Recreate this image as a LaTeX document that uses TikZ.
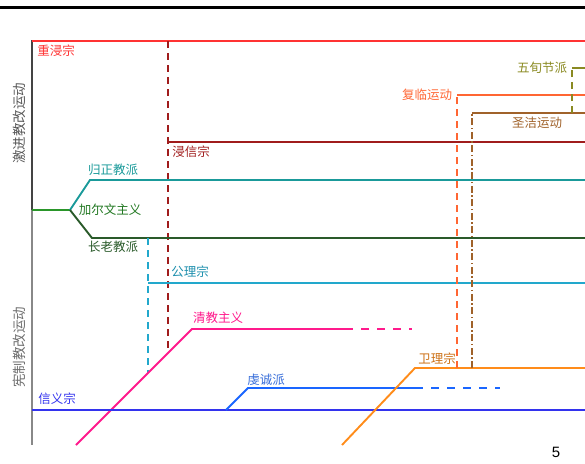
\documentclass[tikz,border=0pt]{standalone}
\usepackage{fontspec}
\setmainfont{Noto Sans CJK SC}
\newfontfamily\numfont{Liberation Sans}
\definecolor{cRed}{HTML}{FF3333}
\definecolor{cDarkRed}{HTML}{A01C1C}
\definecolor{cTeal}{HTML}{1A9A9A}
\definecolor{cGreen}{HTML}{2A962A}
\definecolor{cDarkGreen}{HTML}{2A5A2A}
\definecolor{cLightBlue}{HTML}{22A8CC}
\definecolor{cPink}{HTML}{FF1A8C}
\definecolor{cBlue}{HTML}{3333EE}
\definecolor{cPiet}{HTML}{1A66FF}
\definecolor{cOrange}{HTML}{FF8C1A}
\definecolor{cAdvent}{HTML}{FF6633}
\definecolor{cHoly}{HTML}{A0622A}
\definecolor{cPent}{HTML}{8A8A22}
\definecolor{cAxisDark}{HTML}{444444}
\definecolor{cAxisLight}{HTML}{888888}
\tikzset{
  lbl/.style={inner sep=0pt, font=\fontsize{12.5}{14}\selectfont},
  side/.style={inner sep=0pt, rotate=90, font=\fontsize{13.5}{15}\selectfont},
  ln/.style={line width=1.9pt},
  dsh/.style={ln, dash pattern=on 7pt off 5pt},
  dshdot/.style={ln, dash pattern=on 7pt off 2.5pt on 1.5pt off 2.5pt},
}
\begin{document}
\begin{tikzpicture}[x=1pt,y=-1pt]
\useasboundingbox (0,0) rectangle (585,463);
% top rule
\coordinate (t1) at (0,7); \coordinate (t2) at (585,7);
\draw[line width=3pt,black] (t1) -- (t2);
% axis
\coordinate (a0) at (32,40); \coordinate (a1) at (32,210); \coordinate (a2) at (32,445);
\draw[line width=2.2pt,cAxisDark] (a0) -- (a1);
\draw[line width=2.2pt,cAxisLight] (a1) -- (a2);
\node[side,text=cAxisDark!90] (radical) at (19,123) {激进教改运动};
\node[side,text=cAxisLight!80!black] (magist) at (19,347) {宪制教改运动};
% 重浸宗
\coordinate (r1) at (32,41); \coordinate (r2) at (585,41);
\draw[ln,cRed] (r1) -- (r2);
\node[lbl,text=cRed] (anabapt) at (56,51) {重浸宗};
% 浸信宗
\coordinate (b0) at (168,41); \coordinate (b1) at (168,353); \coordinate (b2) at (168,142); \coordinate (b3) at (585,142);
\draw[dsh,cDarkRed] (b0) -- (b1);
\draw[ln,cDarkRed] (b2) -- (b3);
\node[lbl,text=cDarkRed] (baptist) at (191,152) {浸信宗};
% Calvinism
\coordinate (c0) at (32,210); \coordinate (c1) at (70,210);
\coordinate (g1) at (90,180); \coordinate (g2) at (585,180);
\coordinate (p1) at (92,238); \coordinate (p2) at (585,238);
\draw[ln,cGreen] (c0) -- (c1);
\draw[ln,cTeal] (c1) -- (g1) -- (g2);
\draw[ln,cDarkGreen] (c1) -- (p1) -- (p2);
\node[lbl,text=cTeal] (reformed) at (113,170) {归正教派};
\node[lbl,text=cGreen!80!black] (calvin) at (110,210) {加尔文主义};
\node[lbl,text=cDarkGreen] (presby) at (113,247) {长老教派};
% 公理宗
\coordinate (k0) at (148,238); \coordinate (k1) at (148,373); \coordinate (k2) at (148,283); \coordinate (k3) at (585,283);
\draw[dsh,cLightBlue] (k0) -- (k1);
\draw[ln,cLightBlue] (k2) -- (k3);
\node[lbl,text=cLightBlue!85!black] (congr) at (190,272) {公理宗};
% 清教主义
\coordinate (q0) at (76,445); \coordinate (q1) at (192,329); \coordinate (q2) at (345,329); \coordinate (q3) at (412,329);
\draw[ln,cPink] (q0) -- (q1) -- (q2);
\draw[ln,cPink,dash pattern=on 8pt off 8pt] (q2) -- (q3);
\node[lbl,text=cPink] (puritan) at (218,318) {清教主义};
% 信义宗
\coordinate (l1) at (32,410); \coordinate (l2) at (585,410);
\draw[ln,cBlue] (l1) -- (l2);
\node[lbl,text=cBlue] (luth) at (57,399) {信义宗};
% 虔诚派
\coordinate (h0) at (226,410); \coordinate (h1) at (248,388); \coordinate (h2) at (415,388); \coordinate (h3) at (500,388);
\draw[ln,cPiet] (h0) -- (h1) -- (h2);
\draw[ln,cPiet,dash pattern=on 8pt off 8pt] (h2) -- (h3);
\node[lbl,text=cPiet!70!gray] (pietism) at (266,380) {虔诚派};
% 卫理宗
\coordinate (m0) at (342,445); \coordinate (m1) at (415,368); \coordinate (m2) at (585,368);
\draw[ln,cOrange] (m0) -- (m1) -- (m2);
\node[lbl,text=cOrange!80!black] (method) at (437,359) {卫理宗};
% 复临运动
\coordinate (d0) at (457,368); \coordinate (d1) at (457,95); \coordinate (d2) at (585,95);
\draw[dsh,cAdvent] (d0) -- (d1);
\draw[ln,cAdvent] (d1) -- (d2);
\node[lbl,text=cAdvent] (advent) at (427,95) {复临运动};
% 圣洁运动
\coordinate (s0) at (472,368); \coordinate (s1) at (472,113); \coordinate (s2) at (585,113);
\draw[dshdot,cHoly] (s0) -- (s1);
\draw[ln,cHoly] (s1) -- (s2);
\node[lbl,text=cHoly] (holiness) at (537,123) {圣洁运动};
% 五旬节派
\coordinate (f0) at (572,113); \coordinate (f1) at (572,68); \coordinate (f2) at (585,68);
\draw[dsh,cPent] (f0) -- (f1);
\draw[ln,cPent] (f1) -- (f2);
\node[lbl,text=cPent] (pente) at (542,68) {五旬节派};
% page number
\node[inner sep=0pt,font=\numfont\fontsize{15}{17}\selectfont] (pg) at (556,452) {5};
\end{tikzpicture}
\end{document}
